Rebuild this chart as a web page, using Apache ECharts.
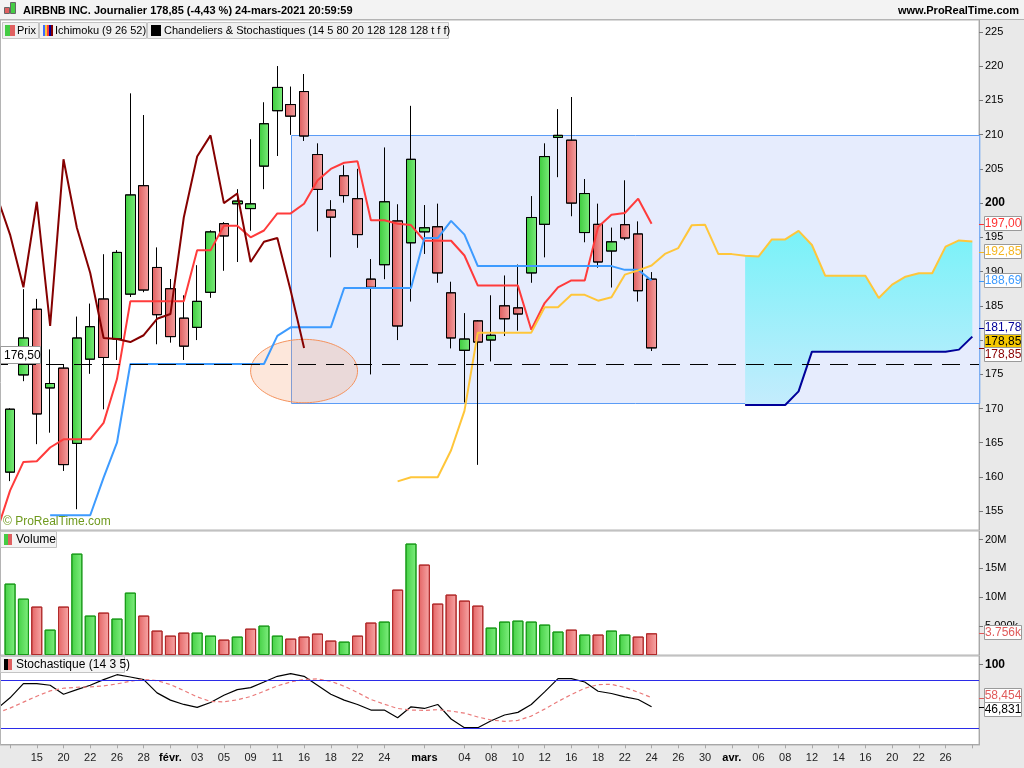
<!DOCTYPE html>
<html><head><meta charset="utf-8">
<script src="https://cdn.jsdelivr.net/npm/echarts@6/dist/echarts.min.js"></script>
<style>html,body{margin:0;padding:0;background:#e9e9e9}#c{width:1024px;height:768px}</style>
</head><body><div id="c"></div>
<script>
// ---------- DATA ----------
const dates = ['01-12','01-13','01-14','01-15','01-19','01-20','01-21','01-22','01-25','01-26','01-27','01-28','01-29',
 '02-01','02-02','02-03','02-04','02-05','02-08','02-09','02-10','02-11','02-12','02-16','02-17','02-18','02-19','02-22','02-23','02-24','02-25','02-26',
 '03-01','03-02','03-03','03-04','03-05','03-08','03-09','03-10','03-11','03-12','03-15','03-16','03-17','03-18','03-19','03-22','03-23','03-24',
 '03-25','03-26','03-29','03-30','03-31','04-01','04-05','04-06','04-07','04-08','04-09','04-12','04-13','04-14','04-15','04-16','04-19','04-20','04-21','04-22','04-23','04-26','04-27','04-28'];
const tickIdx  = [3,5,7,9,11,13,15,17,19,21,23,25,27,29,32,35,37,39,41,43,45,47,49,51,53,55,57,59,61,63,65,67,69,71];
const tickText = ['15','20','22','26','28','févr.','03','05','09','11','16','18','22','24','mars','04','08','10','12','16','18','22','24','26','30','avr.','06','08','12','14','16','20','22','26'];
const tickOnlyIdx = [1,73];

const opens  = [null,160.7,174.9,184.5,173.0,175.9,164.9,177.2,186.0,180.15,186.7,202.55,190.6,187.5,183.2,181.85,186.97,197.0,199.9,199.2,205.4,213.5,214.4,216.3,207.1,199.0,204.0,200.65,188.9,191.0,197.4,194.2,195.8,196.55,186.9,178.5,182.8,180.0,185.0,184.7,189.8,196.9,209.6,209.2,195.7,196.9,193.0,196.85,195.5,188.9];
const highs  = [null,170.0,187.4,186.0,178.6,176.4,183.4,185.3,192.5,193.1,216.0,212.85,193.5,188.9,186.5,190.9,196.0,197.2,202.0,209.3,214.7,220.0,217.0,218.85,208.7,200.4,205.5,205.0,191.8,208.1,199.8,214.2,199.7,199.9,188.5,183.9,182.9,186.5,189.4,191.0,201.0,208.7,213.7,215.5,203.5,199.9,196.4,203.3,197.3,189.9];
const lows   = [null,159.4,174.0,164.8,166.5,160.9,155.3,175.1,169.9,177.1,186.3,187.0,179.4,179.65,177.1,180.0,186.2,190.15,191.4,196.0,202.05,206.9,210.0,209.1,195.9,192.1,200.1,193.5,175.0,188.9,180.0,185.65,192.6,188.4,178.8,170.9,161.8,176.9,180.6,181.4,188.4,192.1,203.8,198.1,194.3,190.6,187.7,194.6,185.65,178.4];
const closes = [null,169.9,180.3,169.2,173.65,161.8,180.3,181.95,177.45,192.8,201.2,187.3,183.7,180.5,179.1,185.65,195.8,195.2,200.3,199.9,211.6,216.9,212.7,209.8,202.0,197.95,201.1,195.4,187.7,200.2,182.05,206.4,196.4,189.8,180.3,180.15,179.7,180.7,183.1,183.8,197.9,206.8,209.9,200.0,201.4,191.4,194.35,194.9,187.2,178.85];
const volumesM = [null,12.37,9.77,8.39,4.40,8.39,17.57,6.83,7.35,6.31,10.81,6.83,4.23,3.36,3.88,3.88,3.36,2.67,3.19,4.57,5.09,3.36,2.84,3.19,3.71,2.50,2.32,3.36,5.62,5.79,11.33,19.31,15.67,8.91,10.47,9.43,8.56,4.75,5.79,5.96,5.79,5.27,4.06,4.40,3.54,3.54,4.23,3.54,3.19,3.756];

const tenkan = [152.0,158.0,162.2,162.3,164.3,165.5,165.5,165.5,167.9,174.3,185.65,185.65,185.65,185.65,185.65,193.1,193.1,196.7,196.7,195.0,196.0,198.5,198.5,199.9,203.3,205.0,205.9,206.1,197.5,197.5,197.0,196.8,194.5,194.5,194.5,192.35,187.95,187.95,187.95,187.95,181.5,185.4,187.7,188.7,188.7,196.5,198.3,198.55,200.65,197.0];
const kijun = [null,null,null,null,154.4,154.4,154.4,154.4,159.9,165.0,176.5,176.5,176.5,176.5,176.5,176.5,176.5,176.5,176.5,176.5,176.5,180.6,181.85,181.85,181.85,181.85,187.6,187.6,187.6,187.6,187.6,187.6,194.9,194.9,197.4,195.4,190.8,190.8,190.8,190.8,190.8,190.8,190.8,190.8,190.8,190.8,190.8,190.25,190.25,188.69];
const senkouAVals = [159.35,159.95,159.95,159.95,163.9,169.65,181.08,181.08,181.08,181.08,181.08,184.8,184.8,186.6,186.6,185.75,186.25,189.55,190.18,190.88,192.58,193.43,196.75,196.85,192.55,192.55,192.3,192.2,194.7,194.7,195.95,193.88,189.38,189.38,189.38,189.38,186.15,188.1,189.25,189.75,189.75,193.65,194.55,194.4];
const senkouAStart = 30;
const senkouBVals = [170.5,170.5,170.5,170.5,172.5,178.3,178.3,178.3,178.3,178.3,178.3,178.3,178.3,178.3,178.3,178.3,178.6,180.5];
const senkouBStart = 56;
const chikouShift = 26;

const stochK = [44.0,58.1,75.9,75.9,73.8,62.6,68.4,73.8,80.8,87.0,84.1,80.8,64.3,55.2,49.8,46.1,52.3,61.4,68.4,70.9,77.9,85.0,88.3,85.0,73.8,62.6,55.2,49.8,42.8,42.8,33.2,46.9,44.8,49.8,31.6,20.8,20.8,29.5,36.6,39.9,49.8,65.5,82.1,82.1,77.9,66.3,63.5,59.3,56.0,46.83];
const stochD = [39.0,45.2,52.7,60.1,66.8,70.1,71.3,71.7,73.0,75.5,78.8,81.2,79.6,74.6,67.2,59.3,53.5,53.1,55.6,59.7,66.3,73.0,77.9,81.2,81.7,78.8,72.6,64.7,56.0,50.2,44.8,42.8,42.4,43.2,41.5,39.0,34.1,30.4,28.7,29.9,35.3,44.0,53.5,62.2,70.1,74.6,75.0,70.9,65.1,58.45];
const stochLevels = [80, 20];

// annotations (data units)
const hLineLevel = 176.5;
const zoneStartIdx = 22, zoneTop = 210.0, zoneBottom = 170.9;
const ellipseIdx = 23, ellipsePrice = 175.47, ellipseHalfW = 4.0, ellipseHalfH = 4.63;

// right-axis value tags
const priceTags = [
  {v:197.00, t:'197,00', c:'#ff3333', bg:'#fff'},
  {v:192.85, t:'192,85', c:'#f5b622', bg:'#fff'},
  {v:188.69, t:'188,69', c:'#3d9bff', bg:'#fff'},
  {v:181.78, t:'181,78', c:'#000099', bg:'#fff'},
  {v:178.85, t:'178,85', c:'#000', bg:'#f5c800', dy:-6},
  {v:178.85, t:'178,85', c:'#8b0000', bg:'#fff', dy:7}
];
const volTag = {v:3.756, t:'3.756k', c:'#e05a5a'};
const stochTags = [{v:58.454, t:'58,454', c:'#e05a5a', dy:-2}, {v:46.831, t:'46,831', c:'#000', dy:3}];

// ---------- BUILD ----------
const F = 'Liberation Sans, Arial, sans-serif';
const N = dates.length;
const pad = (arr, start) => { const o = new Array(N).fill(null); arr.forEach((v,i)=>{o[start+i]=v;}); return o; };
const senkouA = pad(senkouAVals, senkouAStart);
const senkouB = pad(senkouBVals, senkouBStart);
const chikou = dates.map((d,k) => (k + chikouShift < closes.length) ? closes[k + chikouShift] : null);
const candleData = dates.map((d,k) => (k < opens.length && opens[k] != null) ? [opens[k], closes[k], lows[k], highs[k]] : '-');
const LG = echarts.graphic.LinearGradient;
const upFill = new LG(0,0,1,0,[{offset:0,color:'#3ccc3c'},{offset:1,color:'#7ceb7c'}]);
const dnFill = new LG(0,0,1,0,[{offset:0,color:'#de5c5c'},{offset:1,color:'#f4a2a2'}]);
const vUp = new LG(0,0,1,0,[{offset:0,color:'#44d044'},{offset:1,color:'#80ee80'}]);
const vDn = new LG(0,0,1,0,[{offset:0,color:'#e46464'},{offset:1,color:'#f7a8a8'}]);
const volData = dates.map((d,k) => {
  if (k >= volumesM.length || volumesM[k] == null) return '-';
  const prev = (k > 0 && closes[k-1] != null) ? closes[k-1] : opens[k];
  const up = closes[k] >= prev;
  return {value: volumesM[k]*1e6, itemStyle:{color: up ? vUp : vDn, borderColor: up ? '#199a19' : '#b02a2a', borderWidth:1}};
});
const pad1 = (a) => dates.map((d,k)=> k < a.length && a[k] != null ? a[k] : null);
const labelMap = {}; tickIdx.forEach((k,i)=>labelMap[k]=tickText[i]);
const tickSet = new Set(tickIdx.concat(tickOnlyIdx));
const monthSet = new Set(['févr.','mars','avr.']);

const chart = echarts.init(document.getElementById('c'), null, {renderer:'canvas'});
const gridL = -10, gridW = 989;
const hideX = (gi) => ({type:'category', gridIndex:gi, data:dates, boundaryGap:true, show:false});
const gridBase = {left:gridL, width:gridW, show:true, backgroundColor:'#fff', borderColor:'#b4b4b4', borderWidth:1, containLabel:false, outerBoundsMode:'none'};

const option = {
  animation:false,
  backgroundColor:'#e9e9e9',
  textStyle:{fontFamily:F},
  grid:[
    Object.assign({top:20, height:510}, gridBase),
    Object.assign({top:531, height:124}, gridBase),
    Object.assign({top:656, height:89}, gridBase)
  ],
  xAxis:[ hideX(0), hideX(1),
    {type:'category', gridIndex:2, data:dates, boundaryGap:true, position:'bottom',
     axisLine:{show:true, lineStyle:{color:'#a8a8a8'}},
     axisTick:{show:true, alignWithLabel:true, length:4, interval:(i)=>tickSet.has(i), lineStyle:{color:'#a8a8a8'}},
     axisLabel:{show:true, interval:(i)=>labelMap[i]!==undefined, margin:7, fontSize:11, color:'#222', fontFamily:F,
       formatter:(v,i)=>{const t=labelMap[i]; if(t===undefined) return ''; return monthSet.has(t)?'{b|'+t+'}':t;},
       rich:{b:{fontWeight:'bold', fontSize:11, fontFamily:F, color:'#000'}}},
     splitLine:{show:false}}
  ],
  yAxis:[
    {type:'value', gridIndex:0, position:'right', min:152.25, max:226.75, splitLine:{show:false},
     axisLine:{show:true, lineStyle:{color:'#a8a8a8'}},
     axisTick:{show:true, length:4, customValues:[155,160,165,170,175,180,185,190,195,200,205,210,215,220,225], lineStyle:{color:'#777'}},
     axisLabel:{margin:6, fontSize:11, color:'#000', fontFamily:F, customValues:[155,160,165,170,175,180,185,190,195,200,205,210,215,220,225],
       formatter:(v)=> v===200 ? '{b|200}' : String(v), rich:{b:{fontWeight:'bold', fontSize:12, fontFamily:F}}}},
    {type:'value', gridIndex:1, position:'right', min:0, max:21.49e6, splitLine:{show:false},
     axisLine:{show:true, lineStyle:{color:'#a8a8a8'}},
     axisTick:{show:true, length:4, customValues:[5e6,10e6,15e6,20e6], lineStyle:{color:'#777'}},
     axisLabel:{margin:6, fontSize:11, color:'#000', fontFamily:F, customValues:[5e6,10e6,15e6,20e6],
       formatter:(v)=> v>=1e7 ? (v/1e6)+'M' : '5.000k'}},
    {type:'value', gridIndex:2, position:'right', min:-0.875, max:110.375, splitLine:{show:false},
     axisLine:{show:true, lineStyle:{color:'#a8a8a8'}},
     axisTick:{show:true, length:4, customValues:[100], lineStyle:{color:'#777'}},
     axisLabel:{margin:6, fontSize:12, color:'#000', fontFamily:F, customValues:[100], formatter:()=>'{b|100}',
       rich:{b:{fontWeight:'bold', fontSize:12, fontFamily:F}}}}
  ],
  series:[
    {name:'zone', type:'custom', xAxisIndex:0, yAxisIndex:0, z:1, silent:true, data:[[zoneStartIdx, zoneTop]],
     renderItem:(params, api)=>{
       const p1 = api.coord([zoneStartIdx, zoneTop]); const p2 = api.coord([zoneStartIdx, zoneBottom]);
       const cs = params.coordSys;
       return {type:'rect', shape:{x:Math.round(p1[0])+0.5, y:Math.round(p1[1])+0.5, width:cs.x+cs.width-p1[0], height:Math.round(p2[1]-p1[1])},
         style:{fill:'#e6ecfd', stroke:'#5b9cf6', lineWidth:1}};
     }},
    {name:'cloud', type:'custom', xAxisIndex:0, yAxisIndex:0, z:2, silent:true, data:[[senkouBStart, senkouB[senkouBStart]]],
     renderItem:(params, api)=>{
       const pts=[];
       for(let k=senkouBStart;k<N;k++) pts.push(api.coord([k, senkouA[k]]));
       for(let k=N-1;k>=senkouBStart;k--) pts.push(api.coord([k, senkouB[k]]));
       return {type:'polygon', shape:{points:pts}, style:{fill:new LG(0,0,0,1,[{offset:0,color:'#78f2f8'},{offset:1,color:'#c4ecfd'}])}};
     }},
    {name:'ellipse', type:'custom', xAxisIndex:0, yAxisIndex:0, z:2, silent:true, data:[[ellipseIdx, ellipsePrice]],
     renderItem:(params, api)=>{
       const c = api.coord([ellipseIdx, ellipsePrice]);
       const rx = api.coord([ellipseIdx + ellipseHalfW, ellipsePrice])[0] - c[0];
       const ry = api.coord([ellipseIdx, ellipsePrice - ellipseHalfH])[1] - c[1];
       const pts=[]; for(let a=0;a<120;a++){const t=a/120*Math.PI*2; pts.push([c[0]+rx*Math.cos(t), c[1]+ry*Math.sin(t)]);}
       return {type:'polygon', shape:{points:pts}, style:{fill:'rgba(247,160,112,0.25)', stroke:'#f5925c', lineWidth:1}};
     }},
    {name:'Prix', type:'candlestick', xAxisIndex:0, yAxisIndex:0, z:3, barWidth:10, data:candleData,
     itemStyle:{color:upFill, color0:dnFill, borderColor:'#000', borderColor0:'#000', borderWidth:1},
     markLine:{silent:true, symbol:['none','none'], label:{show:false}, lineStyle:{color:'#000', width:1, type:[18,10]},
       data:[{yAxis:hLineLevel}]}},
    {name:'Tenkan', type:'line', xAxisIndex:0, yAxisIndex:0, z:4, data:pad1(tenkan), showSymbol:false, lineStyle:{color:'#ff3b3b', width:2}},
    {name:'Kijun', type:'line', xAxisIndex:0, yAxisIndex:0, z:4, data:pad1(kijun), showSymbol:false, lineStyle:{color:'#3d9bff', width:2}},
    {name:'SenkouA', type:'line', xAxisIndex:0, yAxisIndex:0, z:4, data:senkouA, showSymbol:false, lineStyle:{color:'#ffc63a', width:2}},
    {name:'SenkouB', type:'line', xAxisIndex:0, yAxisIndex:0, z:4, data:senkouB, showSymbol:false, lineStyle:{color:'#000099', width:2}},
    {name:'Chikou', type:'line', xAxisIndex:0, yAxisIndex:0, z:4, data:chikou, showSymbol:false, lineStyle:{color:'#850000', width:2}},
    {name:'Volume', type:'bar', xAxisIndex:1, yAxisIndex:1, barWidth:11, data:volData},
    {name:'%K', type:'line', xAxisIndex:2, yAxisIndex:2, data:pad1(stochK), showSymbol:false, lineStyle:{color:'#000', width:1.2},
     markLine:{silent:true, symbol:['none','none'], label:{show:false}, lineStyle:{color:'#2b2be8', width:1, type:'solid'},
       data:stochLevels.map(v=>({yAxis:v}))}},
    {name:'%D', type:'line', xAxisIndex:2, yAxisIndex:2, data:pad1(stochD), showSymbol:false, lineStyle:{color:'#ea7a7a', width:1.2, type:[4,3]}}
  ]
};
chart.setOption(option);

// ---------- chrome, legends and tags ----------
const g = [];
const txt = (x,y,t,o)=>({type:'text', x, y, z:100, style:Object.assign({text:t, fill:'#000', font:'11px '+F, textVerticalAlign:'middle'}, o||{})});
const rect = (x,y,w,h,fill,stroke,z)=>({type:'rect', z:z||100, shape:{x,y,width:w,height:h}, style:{fill, stroke, lineWidth:1}});
// header
g.push(rect(0,0,1024,19.5,'#f3f3f3',null,90));
g.push({type:'line', z:91, shape:{x1:0,y1:19.5,x2:1024,y2:19.5}, style:{stroke:'#b4b4b4', lineWidth:1}});
g.push(rect(4.5,7.5,5,6,'#e06060','#666',100)); g.push(rect(10.5,2.5,5,11,'#44cc44','#666',100));
g.push(txt(23,11,'AIRBNB INC. Journalier 178,85 (-4,43 %) 24-mars-2021 20:59:59',{font:'bold 11px '+F}));
g.push(txt(1019,11,'www.ProRealTime.com',{font:'bold 11px '+F, textAlign:'right'}));
g.push({type:'line', z:91, shape:{x1:0.5,y1:20,x2:0.5,y2:745}, style:{stroke:'#b4b4b4', lineWidth:1}});
// legend row
g.push(rect(2.5,22.5,36,16,'#f0f0f0','#c4c4c4'));
g.push(rect(5,25,5,11,'#44cc44',null,101)); g.push(rect(10,25,5,11,'#e06060',null,101));
g.push(txt(17,31,'Prix',{font:'11px '+F}));
g.push(rect(39.5,22.5,107,16,'#f0f0f0','#c4c4c4'));
['#3d6cff','#ffc63a','#ff3b3b','#000099','#850000'].forEach((c,i)=>g.push(rect(43+i*2,25,2,11,c,null,101)));
g.push(txt(55,31,'Ichimoku (9 26 52)',{font:'11px '+F}));
g.push(rect(147.5,22.5,301,16,'#f0f0f0','#c4c4c4'));
g.push(rect(151,25,10,11,'#000',null,101));
g.push(txt(164,31,'Chandeliers & Stochastiques (14 5 80 20 128 128 128 t f f)',{font:'11px '+F}));
// watermark
g.push(txt(3,522,'© ProRealTime.com',{font:'12px '+F, fill:'#6f9a1e'}));
// volume legend
g.push(rect(0.5,531.5,56,16,'#f4f4f4','#c4c4c4'));
g.push(rect(4,534,4,11,'#44cc44',null,101)); g.push(rect(8,534,4,11,'#e06060',null,101));
g.push(txt(16,540,'Volume',{font:'12px '+F}));
// stoch legend
g.push(rect(0.5,656.5,124,16,'#f4f4f4','#c4c4c4'));
g.push(rect(4,659,4,11,'#000',null,101)); g.push(rect(8,659,4,11,'#e06060',null,101));
g.push(txt(16,665,'Stochastique (14 3 5)',{font:'12px '+F}));

// horizontal line label
const yH = chart.convertToPixel({yAxisIndex:0}, hLineLevel);
g.push(rect(0.5,Math.round(yH)-17.5,40,17,'#fff','#9a9a9a'));
g.push(txt(4,Math.round(yH)-8.5,'176,50',{font:'12px '+F}));

function tag(yAxisIndex, v, t, c, bg, dy){
  const y = Math.round(chart.convertToPixel({yAxisIndex}, v));
  const cy = y + (dy||0);
  g.push({type:'line', z:101, shape:{x1:979,y1:y+0.5,x2:984,y2:y+0.5}, style:{stroke:c==='#000'?'#000':c, lineWidth:1}});
  g.push(rect(984.5, cy-7.5, 37, 14, bg||'#fff', '#9a9a9a', 101));
  g.push(txt(1003, cy, t, {font:'12px '+F, fill:c, textAlign:'center'}));
}
priceTags.forEach(p=>tag(0, p.v, p.t, p.c, p.bg, p.dy));
tag(1, volTag.v*1e6, volTag.t, volTag.c, '#fff', 0);
stochTags.forEach(p=>tag(2, p.v, p.t, p.c, '#fff', p.dy));
g.forEach(e=>{ if(e.type==='text') e.z = 102; });
chart.setOption({graphic:g});
</script></body></html>
